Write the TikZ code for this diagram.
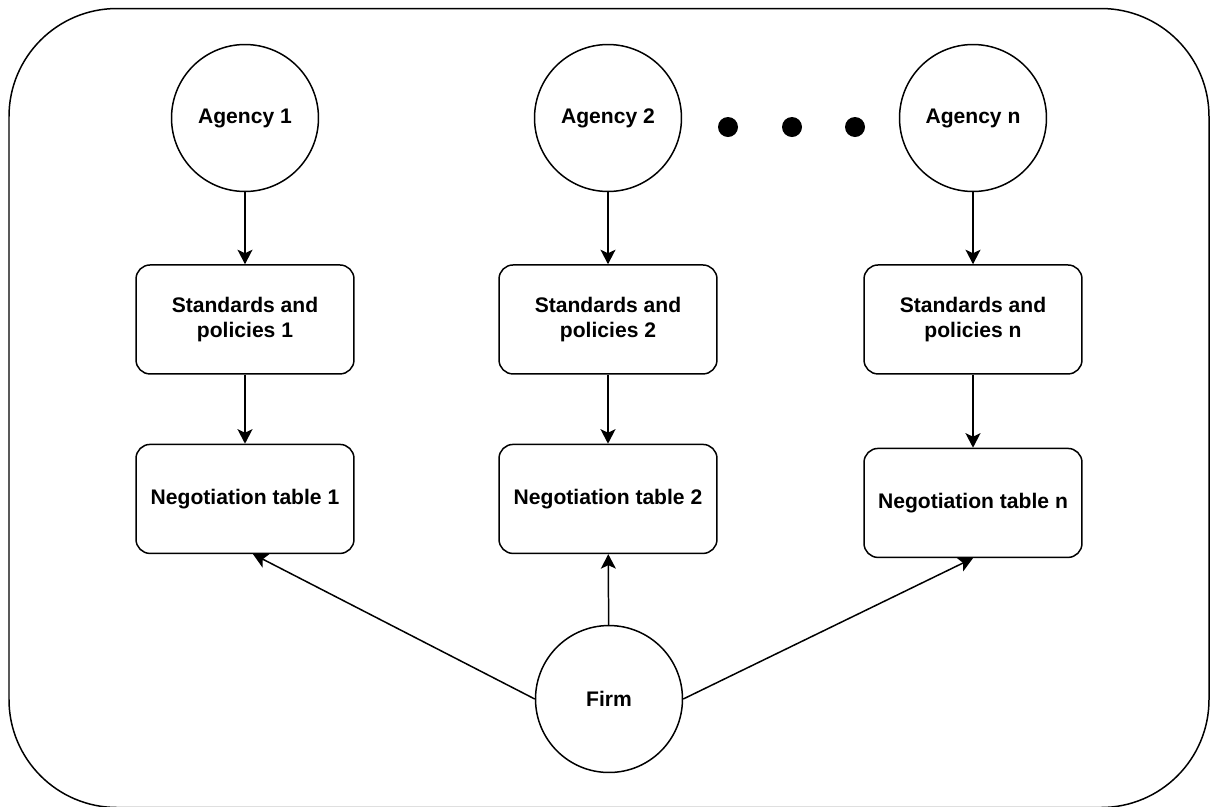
\documentclass[tikz,border=0pt]{standalone}
\usepackage{fontspec}
\setmainfont{Liberation Sans}
\usepackage{tikz}
\usetikzlibrary{arrows.meta, positioning}

\begin{document}
\begin{tikzpicture}[
    x=0.02cm, y=-0.02cm,
    node distance=1.42cm,
    agent/.style={draw, circle, minimum size=2.94cm, inner sep=0pt, line width=0.85pt, font=\fontsize{12}{14.5}\selectfont\bfseries},
    box/.style={draw, rounded corners=8pt, minimum width=4.36cm, minimum height=2.18cm, align=center, line width=0.85pt, font=\fontsize{12}{14.5}\selectfont\bfseries},
    arrow/.style={-{Stealth[length=2.9mm, width=3mm, inset=0.7mm]}, line width=0.85pt},
    dot/.style={circle, fill=black, minimum size=0.4cm, inner sep=0pt}
]
\useasboundingbox (0,0) rectangle (1218,806);

% Frame
\draw[line width=0.85pt, rounded corners=2.16cm] (9,8.5) rectangle (1209,807.5);

% Row 1: Agencies
\node[agent] (ag1) at (245,118) {Agency 1};
\node[agent] (ag2) at (608,118) {Agency 2};
\node[agent] (agn) at (973,118) {Agency n};
\node[dot] (dot1) at (728,127) {};
\node[dot] (dot2) at (792,127) {};
\node[dot] (dot3) at (855,127) {};

% Row 2: Standards
\node[box, below=1.44cm of ag1] (std1) {Standards and\\policies 1};
\node[box, below=1.44cm of ag2] (std2) {Standards and\\policies 2};
\node[box, below=1.44cm of agn] (stdn) {Standards and\\policies n};

% Row 3: Negotiation tables
\node[box, below=1.38cm of std1] (neg1) {Negotiation table 1};
\node[box, below=1.38cm of std2] (neg2) {Negotiation table 2};
\node[box, below=1.46cm of stdn] (negn) {Negotiation table n};

% Firm
\node[agent] (firm) at (609,699) {Firm};

% Arrows
\draw[arrow] (ag1) -- (std1);
\draw[arrow] (ag2) -- (std2);
\draw[arrow] (agn) -- (stdn);
\draw[arrow] (std1) -- (neg1);
\draw[arrow] (std2) -- (neg2);
\draw[arrow] (stdn) -- (negn);
\draw[arrow] (firm.west) -- ([xshift=0.16cm]neg1.south);
\draw[arrow] (firm) -- (neg2);
\draw[arrow] (firm.east) -- (negn.south);

\end{tikzpicture}
\end{document}
